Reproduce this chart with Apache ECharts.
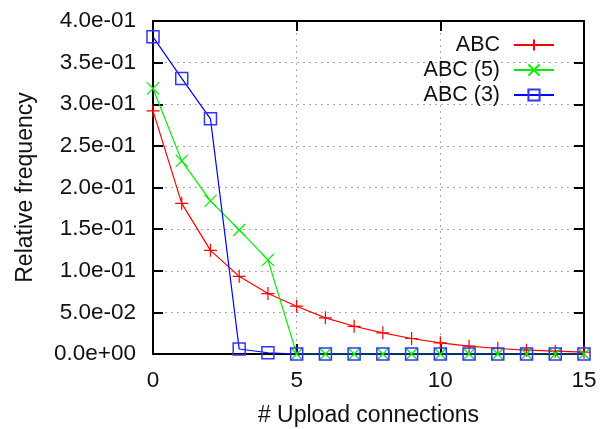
<!DOCTYPE html>
<html>
<head>
<meta charset="utf-8">
<script src="https://cdn.jsdelivr.net/npm/echarts@6/dist/echarts.min.js"></script>
<style>
  html, body { margin: 0; padding: 0; background: #fff; }
  #chart { width: 606px; height: 429px; }
</style>
</head>
<body>
<div id="chart"></div>
<script>
  // data
  var connections = [0, 1, 2, 3, 4, 5, 6, 7, 8, 9, 10, 11, 12, 13, 14, 15];
  var abc = [0.292, 0.181, 0.1245, 0.0933, 0.0726, 0.0574, 0.0434, 0.0333, 0.0254, 0.0186, 0.0134, 0.0094, 0.0066, 0.0046, 0.0034, 0.0022];
  var abc5 = [0.319, 0.232, 0.184, 0.149, 0.113, 0, 0, 0, 0, 0, 0, 0, 0, 0, 0, 0];
  var abc3 = [0.381, 0.331, 0.2825, 0.006, 0.0015, 0, 0, 0, 0, 0, 0, 0, 0, 0, 0, 0];

  var font = '"Liberation Sans", Arial, sans-serif';
  var plusPath = 'path://M0,5L10,5M5,0L5,10';
  var crossPath = 'path://M0,0L10,10M10,0L0,10';

  // gnuplot style 4.0e-01
  function expLabel(v) {
    var s = Number(v).toExponential(1);
    var parts = s.split('e');
    var sign = parts[1].charAt(0);
    var num = parts[1].slice(1);
    if (num.length < 2) num = '0' + num;
    return parts[0] + 'e' + sign + num;
  }

  function pairs(arr) {
    return connections.map(function (x, i) { return [x, arr[i]]; });
  }

  var mychart = echarts.init(document.getElementById('chart'), null, { renderer: 'canvas' });

  var gridLine = { show: true, lineStyle: { color: '#aaa', type: [2, 4], width: 1 } };
  var axisLine = { show: true, onZero: false, lineStyle: { color: '#000', width: 2 } };
  var tick = { show: true, inside: true, length: 10, lineStyle: { color: '#000', width: 2 } };

  var option = {
    animation: false,
    backgroundColor: '#fff',
    grid: { left: 153, right: 22, top: 21, bottom: 75, outerBoundsMode: 'none', containLabel: false },
    legend: [
      { data: ['ABC'], right: 51, top: 34 },
      { data: ['ABC (5)'], right: 51, top: 59 },
      { data: ['ABC (3)'], right: 51, top: 84 }
    ].map(function (l) {
      return Object.assign({
        orient: 'vertical', align: 'right', itemWidth: 40, itemHeight: 14, padding: 0,
        textStyle: { fontFamily: font, fontSize: 21.5, color: '#111', padding: [0, 9, 0, 0] }
      }, l);
    }),
    xAxis: [
      {
        type: 'value', position: 'bottom', min: 0, max: 15, interval: 5,
        name: '# Upload connections', nameLocation: 'middle', nameGap: 50,
        nameTextStyle: { fontFamily: font, fontSize: 23, color: '#111' },
        axisLine: axisLine, axisTick: tick, splitLine: gridLine,
        axisLabel: { fontFamily: font, fontSize: 22.5, color: '#111', margin: 15 }
      },
      {
        type: 'value', position: 'top', min: 0, max: 15, interval: 5,
        axisLine: axisLine, axisTick: tick, splitLine: { show: false },
        axisLabel: { show: false }
      }
    ],
    yAxis: [
      {
        type: 'value', position: 'left', min: 0, max: 0.4, interval: 0.05,
        name: 'Relative frequency', nameLocation: 'middle', nameGap: 116,
        nameTextStyle: { fontFamily: font, fontSize: 23, color: '#111' },
        axisLine: axisLine, axisTick: tick, splitLine: gridLine,
        axisLabel: { fontFamily: font, fontSize: 22.5, color: '#111', margin: 17, formatter: expLabel }
      },
      {
        type: 'value', position: 'right', min: 0, max: 0.4, interval: 0.05,
        axisLine: axisLine, axisTick: tick, splitLine: { show: false },
        axisLabel: { show: false }
      }
    ],
    series: [
      {
        name: 'ABC', type: 'line', data: pairs(abc), color: '#ff0000',
        symbol: plusPath, symbolSize: 13, showAllSymbol: true,
        lineStyle: { width: 1.2, color: '#ff0000' },
        itemStyle: { color: 'rgba(0,0,0,0)', borderColor: '#ff0000', borderWidth: 1.2 }
      },
      {
        name: 'ABC (5)', type: 'line', data: pairs(abc5), color: '#00ee00',
        symbol: crossPath, symbolSize: 12, showAllSymbol: true,
        lineStyle: { width: 1.2, color: '#00ee00' },
        itemStyle: { color: 'rgba(0,0,0,0)', borderColor: '#00ee00', borderWidth: 1.2 }
      },
      {
        name: 'ABC (3)', type: 'line', data: pairs(abc3), color: '#0000ff',
        symbol: 'rect', symbolSize: 12, showAllSymbol: true,
        lineStyle: { width: 1.2, color: '#0000ff' },
        itemStyle: { color: 'rgba(0,0,0,0)', borderColor: '#3333ff', borderWidth: 1.5 }
      }
    ]
  };

  mychart.setOption(option);
</script>
</body>
</html>
